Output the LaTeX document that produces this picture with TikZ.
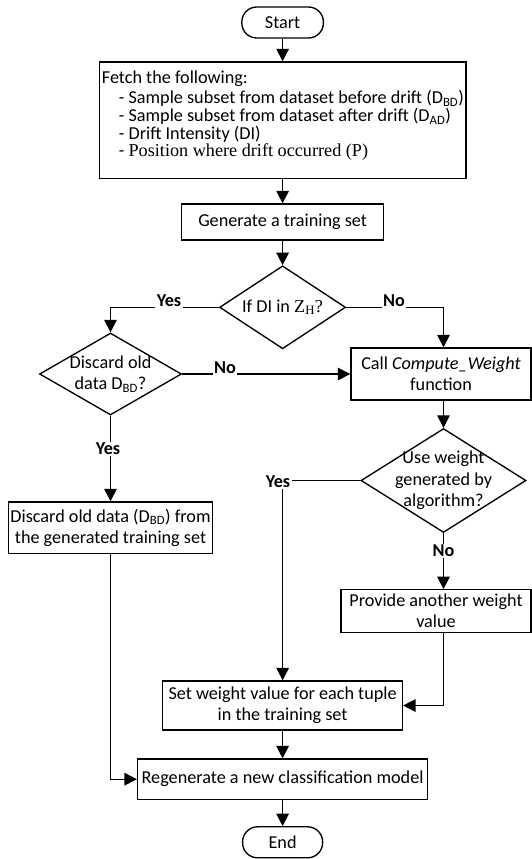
\documentclass[tikz,border=0pt]{standalone}
\usepackage{fontspec}
\setmainfont{Carlito}
\newfontfamily\tnr{Liberation Serif}
\usetikzlibrary{shapes.geometric,arrows.meta}
\begin{document}
\begin{tikzpicture}[x=1pt,y=-1pt,
  every node/.style={font=\fontsize{18.2}{21.3}\selectfont},
  box/.style={draw, line width=1.35pt, rectangle, inner sep=0pt, align=center},
  term/.style={draw, line width=1.35pt, rectangle, rounded corners=15pt, inner sep=0pt},
  dec/.style={draw, line width=1.35pt, diamond, inner sep=0pt},
  lbl/.style={font=\fontsize{18.2}{21.3}\selectfont\bfseries, fill=white, inner sep=1.5pt},
  arr/.style={line width=1.35pt, -{Triangle[width=12.5pt,length=12.5pt]}}]
\useasboundingbox (0,0) rectangle (532,859);

% nodes
\node[term, minimum width=81.6pt, minimum height=31pt] (start) at (282.6,22.5) {Start};
\node[box, minimum width=366.6pt, minimum height=116.5pt] (fetch) at (282.6,120.2) {};
\node[anchor=north west, align=left, inner sep=0pt, font=\fontsize{18.2}{17.6}\selectfont] (fetchtxt) at (101.7,71)
  {Fetch the following:\\[2.5pt]
   \hspace*{17pt}- Sample subset from dataset before drift (D\textsubscript{BD})\\
   \hspace*{17pt}- Sample subset from dataset after drift (D\textsubscript{AD})\\
   \hspace*{17pt}- Drift Intensity (DI)\\
   \hspace*{17pt}- {\tnr Position where drift occurred (P)}};
\node[box, minimum width=202pt, minimum height=36pt] (gen) at (282.6,222) {Generate a training set};
\node[dec, minimum width=126pt, minimum height=83pt] (d1) at (282.6,307.3) {};
\node (d1t) at (d1.center) {If DI in {\tnr Z\textsubscript{H}?}};
\node[dec, minimum width=142pt, minimum height=82pt] (d2) at (110.5,374) {};
\node[align=center] (d2t) at (d2.center) {Discard old\\data D\textsubscript{BD}?};
\node[box, minimum width=180pt, minimum height=52pt] (call) at (441,374) {Call \textit{Compute\_Weight}\\function};
\node[dec, minimum width=165pt, minimum height=104pt] (d3) at (443.5,480.5) {};
\node[align=center] (d3t) at (d3.center) {Use weight\\generated by\\algorithm?};
\node[box, minimum width=204.5pt, minimum height=51.6pt] (discard) at (110.5,527.8) {Discard old data (D\textsubscript{BD}) from\\the generated training set};
\node[box, minimum width=190pt, minimum height=42.4pt] (provide) at (436,611) {Provide another weight\\value};
\node[box, minimum width=239.6pt, minimum height=49pt] (set) at (282.6,705.5) {Set weight value for each tuple\\in the training set};
\node[box, minimum width=290pt, minimum height=40.3pt] (regen) at (282.6,779.2) {Regenerate a new classification model};
\node[term, minimum width=80pt, minimum height=31pt] (end) at (282.6,842.3) {End};

% connectors
\draw[arr] (start.south) -- (fetch.north);
\draw[arr] (fetch.south) -- (gen.north);
\draw[arr] (gen.south) -- (d1.north);
\draw[arr] (d1.west) -| (d2.north);
\draw[arr] (d1.east) -| (d3.north |- call.north);
\draw[arr] (d2.east) -- (call.west);
\draw[arr] (d2.south) -- (discard.north);
\draw[arr] (d3.north |- call.south) -- (d3.north);
\draw[arr] (d3.west) -| (set.north);
\draw[arr] (d3.south) -- (d3.south |- provide.north);
\draw[arr] (provide.south -| d3.south) |- (set.east);
\draw[arr] (set.south) -- (regen.north);
\draw[arr] (discard.south) |- (regen.west);
\draw[arr] (regen.south) -- (end.north);

% labels
\node[lbl, anchor=base] (yes1) at (169,306.5) {Yes};
\node[lbl, anchor=base] (no1) at (394,306.5) {No};
\node[lbl, anchor=base] (no2) at (225,373.5) {No};
\node[lbl] (yes2) at (108,449) {Yes};
\node[lbl] (yes3) at (278,482) {Yes};
\node[lbl] (no3) at (443.5,551) {No};
\end{tikzpicture}
\end{document}
